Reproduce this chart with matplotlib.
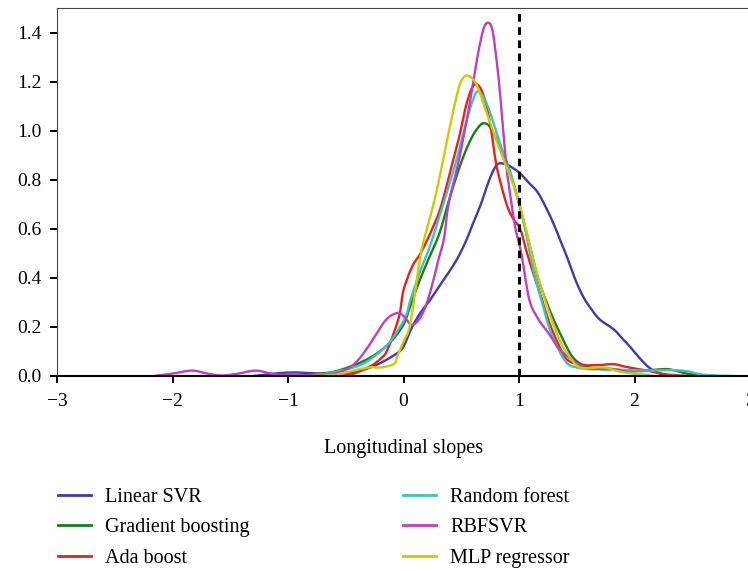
import numpy as np
import matplotlib
matplotlib.use('Agg')
import matplotlib.pyplot as plt
from matplotlib.path import Path
from matplotlib.patches import PathPatch
from matplotlib.lines import Line2D

# density curves (x = longitudinal slope, y = density)
linear_svr_x = [-1.3, -1.0, -0.7, -0.5, -0.35, -0.2, -0.055, 0.0, 0.075, 0.15, 0.23, 0.33, 0.43, 0.49, 0.55,
                0.6, 0.67, 0.72, 0.77, 0.82, 0.9, 1.0, 1.08, 1.16, 1.23, 1.3, 1.36, 1.42, 1.49, 1.56, 1.63,
                1.7, 1.82, 1.9, 1.96, 2.05, 2.13, 2.22, 2.3]
linear_svr_y = [0.0, 0.014, 0.01, 0.012, 0.025, 0.053, 0.093, 0.12, 0.2, 0.26, 0.31, 0.38, 0.45, 0.5, 0.56,
                0.62, 0.7, 0.77, 0.83, 0.865, 0.86, 0.83, 0.79, 0.75, 0.69, 0.62, 0.55, 0.48, 0.39, 0.32, 0.27,
                0.23, 0.19, 0.15, 0.12, 0.07, 0.033, 0.01, 0.003]

grad_boost_x = [-1.0, -0.8, -0.6, -0.45, -0.35, -0.27, -0.19, -0.1, 0.0, 0.07, 0.14, 0.22, 0.31, 0.39, 0.47,
                0.54, 0.6, 0.65, 0.69, 0.74, 0.8, 0.87, 0.93, 0.99, 1.05, 1.11, 1.17, 1.24, 1.3, 1.38, 1.46,
                1.55, 1.67, 1.87, 2.05, 2.28, 2.45, 2.6]
grad_boost_y = [0.0, 0.005, 0.018, 0.04, 0.06, 0.08, 0.106, 0.145, 0.21, 0.3, 0.39, 0.48, 0.58, 0.71, 0.83,
                0.92, 0.98, 1.015, 1.03, 1.02, 0.97, 0.9, 0.82, 0.72, 0.61, 0.5, 0.39, 0.3, 0.23, 0.15, 0.08,
                0.045, 0.03, 0.025, 0.02, 0.028, 0.01, 0.0]

ada_boost_x = [-1.0, -0.7, -0.5, -0.43, -0.285, -0.2, -0.14, -0.04, 0.0, 0.075, 0.147, 0.23, 0.31, 0.37,
               0.43, 0.49, 0.535, 0.58, 0.62, 0.67, 0.72, 0.76, 0.8, 0.85, 0.9, 0.95, 1.01, 1.07, 1.13, 1.2,
               1.26, 1.34, 1.42, 1.56, 1.7, 1.82, 1.95, 2.13, 2.3, 2.5]
ada_boost_y = [0.0, 0.0, 0.003, 0.01, 0.04, 0.07, 0.106, 0.24, 0.35, 0.446, 0.5, 0.58, 0.67, 0.77,
               0.88, 0.99, 1.09, 1.16, 1.19, 1.17, 1.1, 1.0, 0.87, 0.77, 0.69, 0.64, 0.6, 0.5, 0.41, 0.31,
               0.22, 0.13, 0.065, 0.045, 0.045, 0.048, 0.035, 0.02, 0.005, 0.0]

rand_forest_x = [-0.9, -0.7, -0.51, -0.35, -0.2, -0.1, 0.017, 0.06, 0.147, 0.23, 0.31, 0.39, 0.47, 0.535,
                 0.59, 0.64, 0.7, 0.76, 0.82, 0.885, 0.95, 1.01, 1.07, 1.13, 1.2, 1.26, 1.34, 1.42, 1.5,
                 1.58, 1.87, 2.1, 2.3, 2.45, 2.6, 2.85]
rand_forest_y = [0.0, 0.008, 0.025, 0.05, 0.1, 0.15, 0.24, 0.31, 0.43, 0.53, 0.65, 0.77, 0.9, 1.02,
                 1.11, 1.16, 1.13, 1.06, 0.97, 0.88, 0.79, 0.69, 0.56, 0.42, 0.3, 0.2, 0.11, 0.05, 0.035,
                 0.03, 0.025, 0.022, 0.024, 0.02, 0.005, 0.0]

rbfsvr_x = [-2.16, -2.0, -1.83, -1.7, -1.58, -1.45, -1.28, -1.12, -0.9, -0.6, -0.45, -0.35, -0.25, -0.15,
            -0.055, 0.0, 0.075, 0.16, 0.23, 0.3, 0.35, 0.39, 0.47, 0.53, 0.58, 0.64, 0.69, 0.73, 0.77, 0.81,
            0.84, 0.89, 0.93, 0.97, 1.02, 1.09, 1.17, 1.255, 1.35, 1.46, 1.59, 1.79, 2.0, 2.15, 2.3]
rbfsvr_y = [0.0, 0.01, 0.022, 0.01, 0.002, 0.008, 0.022, 0.008, 0.003, 0.01, 0.04, 0.09, 0.16, 0.23,
            0.257, 0.245, 0.208, 0.25, 0.34, 0.47, 0.56, 0.7, 0.86, 1.0, 1.13, 1.3, 1.41, 1.44, 1.41, 1.27,
            1.13, 0.86, 0.72, 0.6, 0.5, 0.31, 0.23, 0.175, 0.11, 0.066, 0.03, 0.03, 0.01, 0.0, 0.0]

mlp_x = [-0.8, -0.6, -0.45, -0.3, -0.19, -0.08, -0.055, 0.0, 0.06, 0.147, 0.22, 0.29, 0.39, 0.47, 0.51,
         0.55, 0.6, 0.64, 0.7, 0.76, 0.82, 0.885, 0.95, 1.01, 1.07, 1.13, 1.2, 1.26, 1.34, 1.42, 1.53,
         1.73, 1.87, 2.0, 2.12]
mlp_y = [0.0, 0.005, 0.02, 0.035, 0.035, 0.05, 0.08, 0.14, 0.216, 0.49, 0.63, 0.76, 0.99, 1.16, 1.21,
         1.225, 1.21, 1.18, 1.1, 1.02, 0.94, 0.86, 0.78, 0.69, 0.58, 0.46, 0.35, 0.26, 0.16, 0.09, 0.035,
         0.035, 0.018, 0.01, 0.005]

labels = ['Linear SVR', 'Gradient boosting', 'Ada boost', 'Random forest', 'RBFSVR', 'MLP regressor']
colors = ['#3b3bb3', '#1b7d1b', '#e42320', '#40c0c0', '#bf3fbf', '#cccc00']
threshold = 1.0


def smooth_path(xs, ys):
    # catmull-rom through the read points, drawn as cubic bezier segments
    p = np.column_stack([xs, ys])
    verts = [p[0]]
    codes = [Path.MOVETO]
    for i in range(len(p) - 1):
        p0 = p[i - 1] if i > 0 else p[i]
        p3 = p[i + 2] if i + 2 < len(p) else p[i + 1]
        verts += [p[i] + (p[i + 1] - p0) / 6., p[i + 1] - (p3 - p[i]) / 6., p[i + 1]]
        codes += [Path.CURVE4] * 3
    return Path(verts, codes)


plt.rcParams['font.family'] = ['Liberation Serif', 'DejaVu Serif']

fig = plt.figure(figsize=(7.48, 5.71), dpi=100)
ax = fig.add_axes([57/748, 195/571, 693/748, 368/571])

series = [(linear_svr_x, linear_svr_y), (grad_boost_x, grad_boost_y), (ada_boost_x, ada_boost_y),
          (rand_forest_x, rand_forest_y), (rbfsvr_x, rbfsvr_y), (mlp_x, mlp_y)]
handles = []
for (xs, ys), lab, col in zip(series, labels, colors):
    ax.add_patch(PathPatch(smooth_path(xs, ys), fill=False, edgecolor=col, lw=1.7,
                           joinstyle='round', capstyle='round'))
    handles.append(Line2D([], [], color=col, lw=2.0, label=lab))

# reference slope
ax.axvline(threshold, color='black', lw=2.2, linestyle=(0, (2.5, 1.8)), zorder=5)

ax.set_xlim(-3, 3)
ax.set_ylim(0, 1.5)
ax.set_xticks([-3, -2, -1, 0, 1, 2, 3])
ax.set_yticks([0.0, 0.2, 0.4, 0.6, 0.8, 1.0, 1.2, 1.4])
ax.set_yticklabels(['0.0', '0.2', '0.4', '0.6', '0.8', '1.0', '1.2', '1.4'])
ax.tick_params(axis='both', labelsize=14, length=5, width=1.4, color='black')
ax.tick_params(axis='x', pad=7)
ax.tick_params(axis='y', pad=6)
ax.set_xlabel('Longitudinal slopes', fontsize=14.5, labelpad=21)

ax.spines['right'].set_visible(False)
ax.spines['top'].set_color('#444444')
ax.spines['left'].set_color('#444444')
ax.spines['bottom'].set_linewidth(1.5)

fig.legend(handles=handles, loc='upper left', bbox_to_anchor=(40/748, 1 - 470/571), ncol=2,
           frameon=False, fontsize=14.5, handlelength=1.65, handletextpad=0.7,
           columnspacing=7.6, labelspacing=0.55)

plt.savefig('out.png', dpi=100)
